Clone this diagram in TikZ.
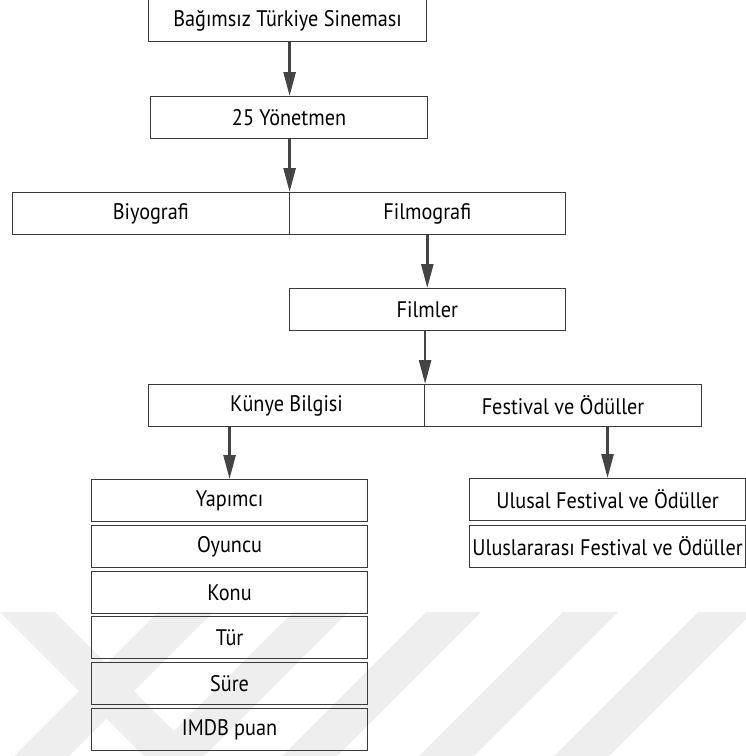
\documentclass[tikz,border=0pt]{standalone}
\usepackage{fontspec}
\setmainfont{PT Sans}[FakeStretch=0.9]
\usetikzlibrary{arrows.meta}
\definecolor{wm}{HTML}{EEEEEE}
\definecolor{edge}{HTML}{3A3A3A}
\definecolor{arr}{HTML}{444444}
\begin{document}
\begin{tikzpicture}[x=1pt,y=-1pt,
  box/.style={draw=edge,line width=1.1pt,rectangle,inner sep=0pt,minimum height=42pt,anchor=north west,font=\fontsize{22.5}{26}\selectfont},
  conn/.style={draw=arr,line width=2.6pt,-{Triangle[length=24pt,width=12pt]}},
  band/.style={fill=wm,draw=none}]
\useasboundingbox (0,0) rectangle (746,756);
% watermark
\begin{scope}
\clip (0,0) rectangle (746,756);
\fill[band] (0,612) -- (55,612) -- (199,756) -- (144,756) -- cycle;
\foreach \a in {158,293,426,563,698}{
  \fill[band] (\a,612) -- (\a+55,612) -- (\a+55-144,756) -- (\a-144,756) -- cycle;
}
\end{scope}
% boxes
\node[box,minimum width=278pt] (b1) at (148,-1) {Bağımsız Türkiye Sineması};
\node[box,minimum width=277pt] (b2) at (150,96) {25 Yönetmen};
\node[box,minimum width=276.5pt] (bio) at (12,192) {Biyografi};
\node[box,minimum width=276.5pt] (film) at (288.5,192) {Filmografi};
\node[box,minimum width=276.5pt] (filmler) at (288.5,288) {Filmler};
\node[box,minimum width=276pt] (kunye) at (148,384) {Künye Bilgisi};
\node[box,minimum width=277pt] (fest) at (424,384) {Festival ve Ödüller};
\node[box,minimum width=276pt] (yap) at (91,479) {Yapımcı};
\node[box,minimum width=276pt] (oyu) at (91,525) {Oyuncu};
\node[box,minimum width=276pt] (kon) at (91,571) {Konu};
\node[box,minimum width=276pt] (tur) at (91,616) {Tür};
\node[box,minimum width=276pt] (sur) at (91,662) {Süre};
\node[box,minimum width=276pt] (imdb) at (91,708) {IMDB puan};
\node[box,minimum width=276pt] (ulu) at (469,478) {Ulusal Festival ve Ödüller};
\node[box,minimum width=276pt] (ulr) at (469,525) {Uluslararası Festival ve Ödüller};
% connectors
\draw[conn] (bio.north east |- b1.south) -- (bio.north east |- b2.north);
\draw[conn] (bio.north east |- b2.south) -- (bio.north east);
\draw[conn] (film.south) -- (film.south |- filmler.north);
\draw[conn] (kunye.north east |- filmler.south) -- (kunye.north east);
\draw[conn] (yap.north |- kunye.south) -- (yap.north);
\draw[conn] (ulu.north |- fest.south) -- (ulu.north);
\end{tikzpicture}
\end{document}
